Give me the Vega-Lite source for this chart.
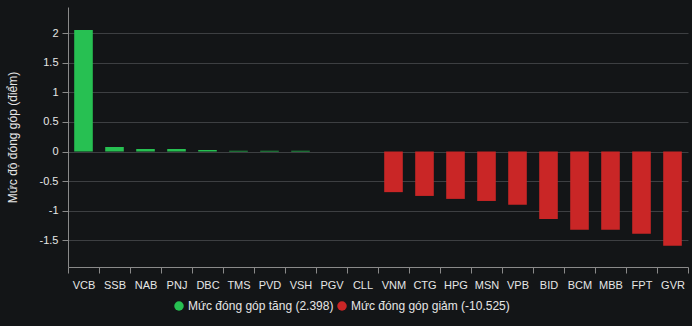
{
  "$schema": "https://vega.github.io/schema/vega-lite/v6.json",
  "width": 620,
  "height": 260,
  "autosize": {"type": "none"},
  "padding": {"left": 68, "top": 7, "right": 4, "bottom": 59},
  "background": "#131517",
  "config": {
    "view": {"stroke": null},
    "font": "Liberation Sans",
    "axis": {"labelColor": "#e6e6e6", "titleColor": "#e6e6e6", "labelFont": "Liberation Sans", "titleFont": "Liberation Sans"},
    "legend": {"labelColor": "#e6e6e6", "labelFont": "Liberation Sans"}
  },
  "data": {
    "values": [
      {"ma": "VCB", "v": 2.05, "g": "Mức đóng góp tăng (2.398)"},
      {"ma": "SSB", "v": 0.076, "g": "Mức đóng góp tăng (2.398)"},
      {"ma": "NAB", "v": 0.042, "g": "Mức đóng góp tăng (2.398)"},
      {"ma": "PNJ", "v": 0.042, "g": "Mức đóng góp tăng (2.398)"},
      {"ma": "DBC", "v": 0.026, "g": "Mức đóng góp tăng (2.398)"},
      {"ma": "TMS", "v": 0.012, "g": "Mức đóng góp tăng (2.398)"},
      {"ma": "PVD", "v": 0.012, "g": "Mức đóng góp tăng (2.398)"},
      {"ma": "VSH", "v": 0.012, "g": "Mức đóng góp tăng (2.398)"},
      {"ma": "PGV", "v": 0, "g": "Mức đóng góp tăng (2.398)"},
      {"ma": "CLL", "v": 0, "g": "Mức đóng góp tăng (2.398)"},
      {"ma": "VNM", "v": -0.686, "g": "Mức đóng góp giảm (-10.525)"},
      {"ma": "CTG", "v": -0.75, "g": "Mức đóng góp giảm (-10.525)"},
      {"ma": "HPG", "v": -0.8, "g": "Mức đóng góp giảm (-10.525)"},
      {"ma": "MSN", "v": -0.835, "g": "Mức đóng góp giảm (-10.525)"},
      {"ma": "VPB", "v": -0.9, "g": "Mức đóng góp giảm (-10.525)"},
      {"ma": "BID", "v": -1.14, "g": "Mức đóng góp giảm (-10.525)"},
      {"ma": "BCM", "v": -1.32, "g": "Mức đóng góp giảm (-10.525)"},
      {"ma": "MBB", "v": -1.32, "g": "Mức đóng góp giảm (-10.525)"},
      {"ma": "FPT", "v": -1.39, "g": "Mức đóng góp giảm (-10.525)"},
      {"ma": "GVR", "v": -1.59, "g": "Mức đóng góp giảm (-10.525)"}
    ]
  },
  "mark": {"type": "bar", "width": {"band": 0.6}},
  "encoding": {
    "x": {
      "field": "ma", "type": "nominal", "sort": null,
      "scale": {"paddingInner": 0, "paddingOuter": 0},
      "axis": {
        "title": null, "labelAngle": 0, "labelFontSize": 11, "labelPadding": 6,
        "domainColor": "#8a8a8a", "tickColor": "#8a8a8a", "tickBand": "extent", "tickSize": 6,
        "grid": false
      }
    },
    "y": {
      "field": "v", "type": "quantitative",
      "scale": {"domain": [-1.95, 2.44], "nice": false, "zero": false},
      "axis": {
        "title": "Mức độ đóng góp (điểm)", "titleFontSize": 12, "titleFontWeight": "normal", "titlePadding": 20,
        "values": [-1.5, -1, -0.5, 0, 0.5, 1, 1.5, 2],
        "labelExpr": "datum.value + ''",
        "labelFontSize": 11, "labelPadding": 4,
        "domainColor": "#8a8a8a", "tickColor": "#8a8a8a", "tickSize": 6,
        "gridColor": "#3d3f42", "gridWidth": 1.2
      }
    },
    "color": {
      "field": "g", "type": "nominal",
      "scale": {"domain": ["Mức đóng góp tăng (2.398)", "Mức đóng góp giảm (-10.525)"], "range": ["#27c052", "#c92626"]},
      "legend": {
        "title": null, "orient": "none", "direction": "horizontal",
        "legendX": 105, "legendY": 293,
        "symbolType": "circle", "symbolSize": 90, "labelFontSize": 12,
        "columnPadding": 2, "labelOffset": 3
      }
    }
  }
}
